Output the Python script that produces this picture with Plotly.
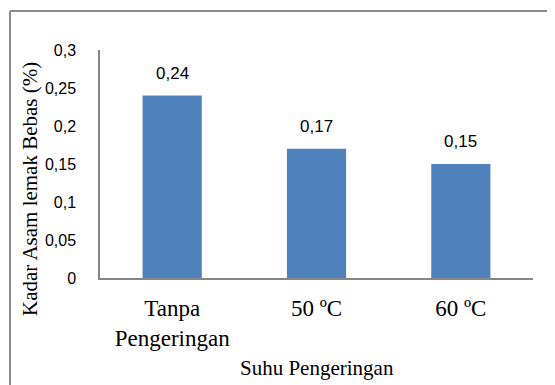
import plotly.graph_objects as go

categories = ["Tanpa<br>Pengeringan", "50 ºC", "60 ºC"]
values = [0.24, 0.17, 0.15]
value_labels = ["0,24", "0,17", "0,15"]
y_ticks = [0, 0.05, 0.1, 0.15, 0.2, 0.25, 0.3]
y_tick_labels = ["0", "0,05", "0,1", "0,15", "0,2", "0,25", "0,3"]

# the page body has an 8px margin, so the figure is drawn 8px in from the window edge
OFF = 8
W, H = 555 - OFF, 385 - OFF
ml, mt = 100 - OFF, 50 - OFF
pw, ph = 433, 228
mr, mb = W - ml - pw, H - mt - ph

def px_x(px):
    return (px - OFF - ml) / pw

def px_y(py):
    return (mt + ph - (py - OFF)) / ph

fig = go.Figure()
fig.add_trace(go.Bar(
    x=categories, y=values,
    marker=dict(color="#4F81BD", line=dict(width=0)),
    width=0.41,
    hoverinfo="skip",
))

for c, v, t in zip(categories, values, value_labels):
    fig.add_annotation(x=c, y=v, text=t, showarrow=False, xref="x", yref="y",
                       yanchor="bottom", yshift=11,
                       font=dict(family="Liberation Sans", size=17, color="#000000"))

# y axis title
fig.add_annotation(x=px_x(30), y=px_y(189), xref="paper", yref="paper",
                   xanchor="center", yanchor="middle",
                   text="Kadar Asam lemak Bebas (%)", textangle=-90, showarrow=False,
                   font=dict(family="Liberation Serif", size=21, color="#000000"))
# x axis title
fig.add_annotation(x=0.5, y=px_y(368), xref="paper", yref="paper",
                   xanchor="center", yanchor="middle",
                   text="Suhu Pengeringan", showarrow=False,
                   font=dict(family="Liberation Serif", size=21, color="#000000"))

# outer chart border (left and top visible)
fig.add_shape(type="line", xref="paper", yref="paper",
              x0=px_x(10), x1=px_x(10), y0=px_y(11), y1=px_y(420),
              line=dict(color="#8C8C8C", width=2))
fig.add_shape(type="line", xref="paper", yref="paper",
              x0=px_x(10), x1=px_x(600), y0=px_y(11), y1=px_y(11),
              line=dict(color="#8C8C8C", width=2))

fig.update_layout(
    width=W, height=H,
    margin=dict(l=ml, r=mr, t=mt, b=mb),
    paper_bgcolor="white", plot_bgcolor="white",
    showlegend=False,
    separators=",.",
    xaxis=dict(
        showgrid=False, showline=True, linecolor="#868686", linewidth=2,
        ticks="", tickfont=dict(family="Liberation Serif", size=23, color="#000000"),
        ticklabelstandoff=8, range=[-0.5, 2.5],
    ),
    yaxis=dict(
        range=[0, 0.3], tickvals=y_ticks, ticktext=y_tick_labels,
        showgrid=False, showline=True, linecolor="#868686", linewidth=1.5,
        ticks="", ticklabelstandoff=19,
        tickfont=dict(family="Liberation Sans", size=16, color="#000000"),
        zeroline=False,
    ),
)

fig.write_html("out.html")
